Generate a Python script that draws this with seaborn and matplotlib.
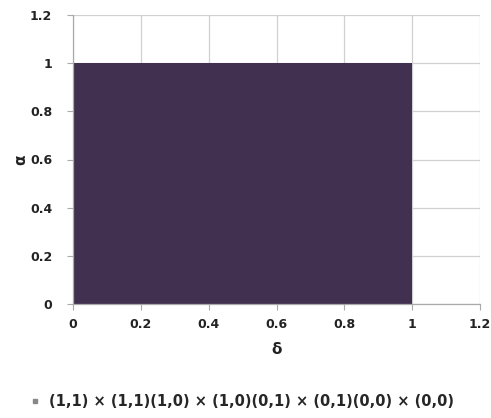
import matplotlib
matplotlib.use("Agg")
import matplotlib.pyplot as plt
from matplotlib.lines import Line2D
import seaborn as sns
import pandas as pd

delta = [0.0, 1.0]
alpha = [1.0, 1.0]
series_label = "(1,1) × (1,1)(1,0) × (1,0)(0,1) × (0,1)(0,0) × (0,0)"
ticks = [0, 0.2, 0.4, 0.6, 0.8, 1, 1.2]
tick_labels = ["0", "0.2", "0.4", "0.6", "0.8", "1", "1.2"]

sns.set_theme(style="white")
plt.rcParams['font.family'] = ['DejaVu Sans']

fig = plt.figure(figsize=(4.91, 4.18), dpi=100)
ax = fig.add_axes([73/491, 1 - 304/418, 407/491, 289/418])

df = pd.DataFrame({"delta": delta, "alpha": alpha})
fill = "#413050"
sns.lineplot(data=df, x="delta", y="alpha", ax=ax, color=fill, linewidth=0, legend=False)
ax.fill_between(df["delta"], 0, df["alpha"], color=fill, linewidth=0, zorder=2)

ax.set_xlim(0, 1.2)
ax.set_ylim(0, 1.2)
ax.set_xticks(ticks)
ax.set_yticks(ticks)
ax.set_xticklabels(tick_labels, fontsize=9, fontweight="bold", color="#222222")
ax.set_yticklabels(tick_labels, fontsize=9, fontweight="bold", color="#222222")
ax.grid(True, color="#d0d0d0", linewidth=0.9, zorder=0)
ax.set_axisbelow(True)
for s in ["top", "right"]:
    ax.spines[s].set_visible(False)
for s in ["left", "bottom"]:
    ax.spines[s].set_color("#aaaaaa")
    ax.spines[s].set_linewidth(0.9)
ax.tick_params(axis="both", which="both", length=4, width=0.8, color="#aaaaaa", direction="out",
               left=True, bottom=True)
ax.tick_params(axis="x", pad=6)
ax.tick_params(axis="y", pad=11)
ax.set_xlabel("δ", fontsize=11, fontweight="bold", labelpad=8, color="#222222")
ax.set_ylabel("α", fontsize=11, fontweight="bold", labelpad=1, color="#222222", rotation=90)

handle = Line2D([], [], marker="s", color="#888888", linestyle="none", markersize=3)
fig.legend([handle], [series_label], loc="center", bbox_to_anchor=(0.492, 1 - 402/418),
           frameon=False, prop={"size": 10.5, "weight": "bold"}, handlelength=0.8, handletextpad=0.6)

fig.savefig("out.png", dpi=100, facecolor="white")
